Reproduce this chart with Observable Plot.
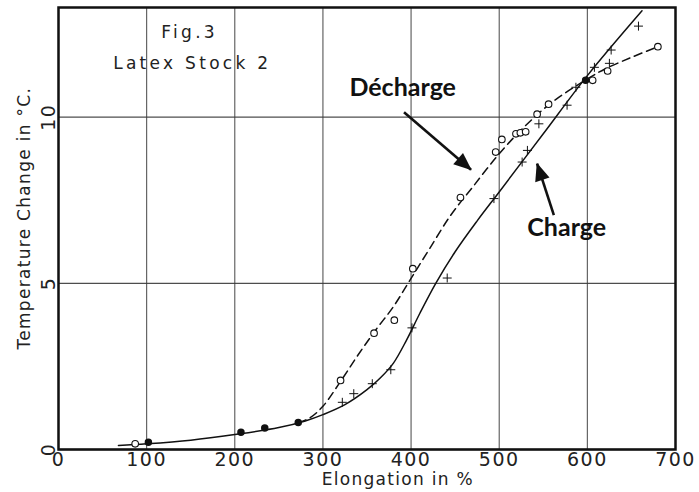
<!DOCTYPE html>
<html><head><meta charset="utf-8">
<script src="https://cdn.jsdelivr.net/npm/d3@7"></script>
<script src="https://cdn.jsdelivr.net/npm/@observablehq/plot@0.6"></script>
<style>
html,body{margin:0;padding:0;background:#fff}
#chart svg{display:block}
</style>
</head><body><div id="chart"></div>
<script>
// Tick values
const xTicks = [0, 100, 200, 300, 400, 500, 600, 700];
const yTicks = [0, 5, 10];

// Charge: measured points (+)
const chargeX = [322, 335, 356, 377, 401, 441, 494, 526, 532, 545, 577, 587, 608, 625, 627, 658];
const chargeY = [1.42, 1.68, 1.98, 2.4, 3.66, 5.16, 7.55, 8.65, 9.0, 9.8, 10.36, 10.9, 11.5, 11.62, 12.02, 12.74];

// Décharge: measured points (o)
const dischargeX = [87, 320, 358, 381, 402, 456, 496, 503, 519, 524, 530, 543, 556, 606, 623, 680];
const dischargeY = [0.17, 2.08, 3.5, 3.89, 5.44, 7.58, 8.95, 9.33, 9.5, 9.53, 9.56, 10.09, 10.39, 11.11, 11.39, 12.12];

// Points shared by both runs (filled)
const bothX = [102, 207, 234, 272, 598];
const bothY = [0.22, 0.52, 0.65, 0.81, 11.11];

// Smooth curves
const chargeCurveX = [68, 100, 150, 200, 250, 280, 300, 325, 350, 365, 380, 395, 410, 428, 450, 475, 500, 550, 600, 662];
const chargeCurveY = [0.12, 0.17, 0.28, 0.45, 0.66, 0.86, 1.05, 1.35, 1.8, 2.15, 2.6, 3.3, 4.1, 5.0, 5.95, 6.88, 7.75, 9.5, 11.25, 13.2];
const dischargeCurveX = [272, 285, 300, 320, 340, 360, 380, 400, 420, 445, 470, 500, 530, 560, 600, 620, 650, 680];
const dischargeCurveY = [0.81, 0.95, 1.3, 2.05, 2.85, 3.6, 4.3, 5.15, 6.0, 7.05, 7.9, 8.9, 9.75, 10.45, 11.15, 11.45, 11.8, 12.12];

// Texts
const titleLines = ["Fig.3", "Latex Stock 2"];
const seriesNames = ["Décharge", "Charge"];
const xLabel = "Elongation in %";
const yLabel = "Temperature Change in °C.";

const zip = (xs, ys) => xs.map((x, i) => ({x, y: ys[i]}));
const charge = zip(chargeX, chargeY);
const discharge = zip(dischargeX, dischargeY);
const both = zip(bothX, bothY);
const chargeCurve = zip(chargeCurveX, chargeCurveY);
const dischargeCurve = zip(dischargeCurveX, dischargeCurveY);

// annotation anchors (data space)
const titleAnn = [
  {text: titleLines[0], x: 148.7, y: 12.54},
  {text: titleLines[1], x: 151.8, y: 11.62}
];
const seriesAnn = [
  {text: seriesNames[0], x: 390.5, y: 10.87},
  {text: seriesNames[1], x: 576.6, y: 6.66}
];
const arrows = [
  {x1: 392, y1: 10.15, x2: 468, y2: 8.42},
  {x1: 562, y1: 7.05, x2: 543, y2: 8.6}
];

function triangleMarker(color, context) {
  const m = d3.create("svg:marker")
    .attr("viewBox", "-18 -9 20 18")
    .attr("markerWidth", 20)
    .attr("markerHeight", 18)
    .attr("markerUnits", "userSpaceOnUse")
    .attr("refX", 0).attr("refY", 0)
    .attr("orient", "auto");
  m.append("path").attr("d", "M1,0L-17,-7.5L-17,7.5Z").attr("fill", color).attr("stroke", "none");
  return m.node();
}

const chart = Plot.plot({
  width: 699,
  height: 492,
  marginLeft: 58,
  marginRight: 24,
  marginTop: 7,
  marginBottom: 43,
  x: {domain: [0, 700]},
  y: {domain: [0, 13.3]},
  style: {fontFamily: "DejaVu Sans", fontSize: "17px", color: "#222", background: "#fff"},
  marks: [
    Plot.gridX(xTicks, {stroke: "#3a3a3a", strokeOpacity: 0.85, strokeWidth: 1.1}),
    Plot.gridY(yTicks, {stroke: "#3a3a3a", strokeOpacity: 0.9, strokeWidth: 1.4}),
    Plot.axisX(xTicks, {tickSize: 0, tickPadding: 3, fontSize: 19, label: null}),
    Plot.axisY(yTicks, {tickSize: 0, tickPadding: 4, tickRotate: -90, fontSize: 19, label: null}),
    Plot.frame({stroke: "#111", strokeWidth: 2.5}),
    Plot.text([xLabel], {x: 385, frameAnchor: "bottom", lineAnchor: "middle", dy: 30, fontSize: 17, fill: "#222"}),
    Plot.text([yLabel], {y: 6.96, frameAnchor: "left", textAnchor: "middle", dx: -34, rotate: -90, fontSize: 17, fill: "#222"}),
    Plot.line(chargeCurve, {x: "x", y: "y", curve: "catmull-rom", stroke: "#111", strokeWidth: 1.5}),
    Plot.line(dischargeCurve, {x: "x", y: "y", curve: "catmull-rom", stroke: "#111", strokeWidth: 1.5, strokeDasharray: "8,5"}),
    Plot.dot(charge, {x: "x", y: "y", symbol: "plus", r: 3, stroke: "#111", strokeWidth: 1}),
    Plot.dot(discharge, {x: "x", y: "y", symbol: "circle", r: 3.3, stroke: "#111", fill: "#fff", strokeWidth: 1.1}),
    Plot.dot(both, {x: "x", y: "y", r: 3, fill: "#111", stroke: "#111"}),
    Plot.text(titleAnn, {x: "x", y: "y", text: "text", fontSize: 17, fill: "#222"}),
    Plot.text(seriesAnn, {x: "x", y: "y", text: "text", fontSize: 25, fontWeight: "bold", fontFamily: "Lato", fill: "#111"}),
    Plot.link(arrows, {x1: "x1", y1: "y1", x2: "x2", y2: "y2", stroke: "#111", strokeWidth: 2.6, markerEnd: triangleMarker})
  ]
});

document.getElementById("chart").append(chart);

// letter spacing to mimic the wide lettering of the original
const svg = d3.select(chart);
svg.selectAll("text").attr("letter-spacing", "1.3px");
svg.selectAll("g[aria-label='x-axis tick label'] text, g[aria-label='y-axis tick label'] text").attr("letter-spacing", "1.5px");
svg.selectAll("g[font-weight=bold] text").attr("letter-spacing", "0px");
svg.selectAll("text").filter(function() { return titleLines.includes(this.textContent); }).attr("letter-spacing", "3.3px");
</script>
</body></html>
